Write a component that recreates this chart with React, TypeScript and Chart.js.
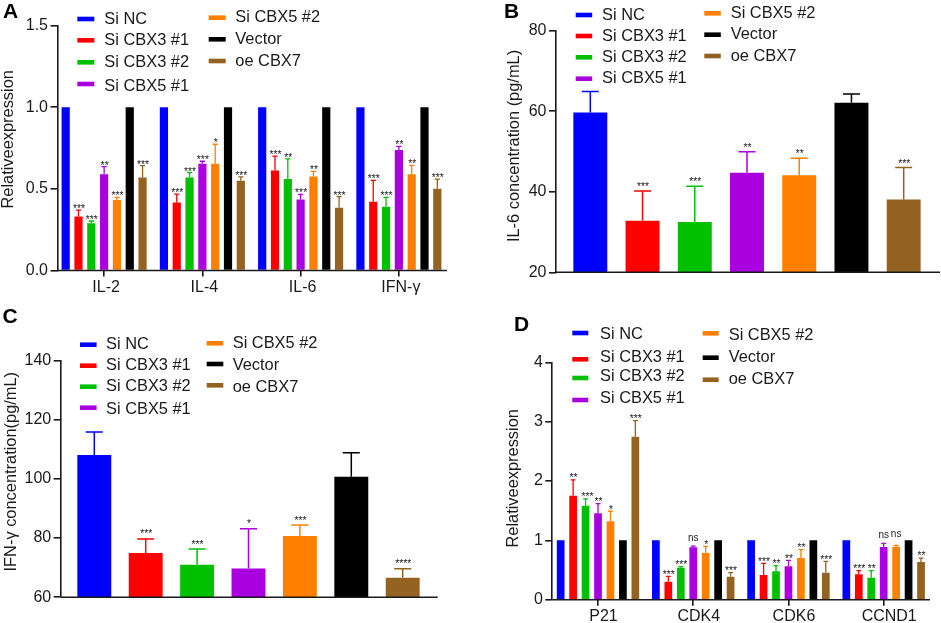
import { useEffect, useRef } from 'react';
import { Chart, registerables } from 'chart.js';

Chart.register(...registerables);

const FONT = '"Liberation Sans", Arial, sans-serif';
const INK = '#1a1a1a';

const seriesLabels = ['Si NC', 'Si CBX3 #1', 'Si CBX3 #2', 'Si CBX5 #1', 'Si CBX5 #2', 'Vector', 'oe CBX7'];
const seriesColors = ['#0000ff', '#ff0000', '#00c000', '#aa00e0', '#ff8000', '#000000', '#946322'];

// panel A, one row per series
const aCategories = ['IL-2', 'IL-4', 'IL-6', 'IFN-γ'];
const aValues = [
    [1, 1, 1, 1],
    [0.33, 0.417, 0.613, 0.421],
    [0.29, 0.57, 0.56, 0.39],
    [0.589, 0.654, 0.434, 0.738],
    [0.431, 0.654, 0.575, 0.589],
    [1, 1, 1, 1],
    [0.57, 0.55, 0.384, 0.5]
];
const aUpper = [
    [0, 0, 0, 0],
    [0.37, 0.468, 0.7, 0.552],
    [0.303, 0.6, 0.683, 0.448],
    [0.636, 0.669, 0.466, 0.76],
    [0.448, 0.773, 0.607, 0.644],
    [0, 0, 0, 0],
    [0.642, 0.573, 0.452, 0.56]
];
const aMarks = [
    ['', '', '', ''],
    ['***', '***', '***', '***'],
    ['***', '***', '**', '***'],
    ['**', '***', '***', '**'],
    ['***', '*', '**', '**'],
    ['', '', '', ''],
    ['***', '***', '***', '***']
];

// panel B
const bValues = [59.7, 32.8, 32.5, 44.75, 44.1, 62.1, 38.1];
const bUpper = [64.9, 40.2, 41.35, 49.96, 48.3, 64.3, 46];
const bMarks = ['', '***', '***', '**', '**', '', '***'];

// panel C
const cValues = [108.05, 74.96, 71, 69.7, 80.7, 100.7, 66.6];
const cUpper = [115.8, 79.7, 76.3, 83.1, 84.4, 108.8, 69.6];
const cMarks = ['', '***', '***', '*', '***', '', '****'];

// panel D, one row per series
const dCategories = ['P21', 'CDK4', 'CDK6', 'CCND1'];
const dValues = [
    [1, 1, 1, 1],
    [1.753, 0.303, 0.416, 0.427],
    [1.584, 0.54, 0.478, 0.371],
    [1.455, 0.882, 0.562, 0.888],
    [1.32, 0.787, 0.702, 0.893],
    [1, 1, 1, 1],
    [2.747, 0.388, 0.455, 0.635]
];
const dUpper = [
    [0, 0, 0, 0],
    [2.02, 0.393, 0.612, 0.489],
    [1.7, 0.556, 0.573, 0.489],
    [1.62, 0.904, 0.663, 0.949],
    [1.49, 0.899, 0.843, 0.916],
    [0, 0, 0, 0],
    [3.017, 0.455, 0.646, 0.702]
];
const dMarks = [
    ['', '', '', ''],
    ['**', '***', '***', '***'],
    ['***', '***', '**', '**'],
    ['**', 'ns', '**', 'ns'],
    ['*', '*', '**', 'ns'],
    ['', '', '', ''],
    ['***', '***', '***', '**']
];

type Panel = {
    letter: string;
    letterAt: [number, number];
    box: [number, number, number, number]; // page x, y, w, h of the canvas
    area: [number, number, number, number]; // page left, top, right, bottom of the plot
    axisX: number;
    axisEnd: number;
    min: number;
    max: number;
    step: number;
    decimals: number;
    title: string;
    titleAt: [number, number];
    categories: string[];
    labelOffset: number;
    values: number[][];
    upper: number[][];
    marks: string[][];
    catPct: number;
    barPct: number;
    cap: number;
    starDrop: number;
    nudge?: Record<string, [number, number]>; // a few marks sit off centre in the figure
    swatchX: [number, number];
    swatchW: number;
    textX: [number, number];
    swatchY: number[];
    textY: number[];
};

const panels: Panel[] = [
    {
        letter: 'A',
        letterAt: [3, 18.3],
        box: [0, 0, 470, 300],
        area: [55, 25.5, 448, 270.5],
        axisX: 57.5,
        axisEnd: 447,
        min: 0,
        max: 1.5,
        step: 0.5,
        decimals: 1,
        title: 'Relativeexpression',
        titleAt: [8.3, 139.3],
        categories: aCategories,
        labelOffset: 2,
        values: aValues,
        upper: aUpper,
        marks: aMarks,
        catPct: 0.913,
        barPct: 0.64,
        cap: 2.6,
        starDrop: 2,
        swatchX: [77.3, 208.7],
        swatchW: 17,
        textX: [104.3, 235.3],
        swatchY: [19, 40.3, 62.3, 84, 17.7, 39.3, 61],
        textY: [19, 40.7, 62, 86, 17.3, 39.3, 61]
    },
    {
        letter: 'B',
        letterAt: [504, 17.7],
        box: [470, 0, 471, 300],
        area: [564.2, 30.7, 929.8, 272.3],
        axisX: 556,
        axisEnd: 940,
        min: 20,
        max: 80,
        step: 20,
        decimals: 0,
        title: 'IL-6 concentration (pg/mL)',
        titleAt: [514.3, 146],
        categories: [''],
        labelOffset: 0,
        values: bValues.map((v) => [v]),
        upper: bUpper.map((v) => [v]),
        marks: bMarks.map((v) => [v]),
        catPct: 1,
        barPct: 0.65,
        cap: 8.5,
        starDrop: -1,
        swatchX: [575.7, 704.3],
        swatchW: 16.5,
        textX: [602, 730.7],
        swatchY: [15, 36, 57.3, 78.7, 13.3, 34.7, 56],
        textY: [15, 36, 57.3, 78.7, 13.3, 34.7, 56]
    },
    {
        letter: 'C',
        letterAt: [2.5, 322.7],
        box: [0, 300, 470, 323],
        area: [68.6, 360.3, 428.4, 597.3],
        axisX: 60.7,
        axisEnd: 437.7,
        min: 60,
        max: 140,
        step: 20,
        decimals: 0,
        title: 'IFN-γ concentration(pg/mL)',
        titleAt: [11.7, 471.7],
        categories: [''],
        labelOffset: 0,
        values: cValues.map((v) => [v]),
        upper: cUpper.map((v) => [v]),
        marks: cMarks.map((v) => [v]),
        catPct: 1,
        barPct: 0.66,
        cap: 8.5,
        starDrop: -1.5,
        swatchX: [80, 206.7],
        swatchW: 16.6,
        textX: [106, 232.7],
        swatchY: [344.7, 365.7, 386.7, 407.7, 343.3, 364, 385.3],
        textY: [344, 365, 386.3, 409, 343, 365.7, 387]
    },
    {
        letter: 'D',
        letterAt: [514, 331.3],
        box: [470, 300, 471, 323],
        area: [550.4, 362.3, 931.3, 599.7],
        axisX: 552.3,
        axisEnd: 930,
        min: 0,
        max: 4,
        step: 1,
        decimals: 0,
        title: 'Relativeexpression',
        titleAt: [513.7, 478.3],
        categories: dCategories,
        labelOffset: 5.5,
        values: dValues,
        upper: dUpper,
        marks: dMarks,
        catPct: 0.915,
        barPct: 0.62,
        cap: 2.4,
        starDrop: 1.3,
        nudge: { '2,0': [1.5, 0], '4,3': [0, -3] },
        swatchX: [572.3, 702.7],
        swatchW: 16,
        textX: [600, 728.7],
        swatchY: [333, 359.3, 378, 400, 333.3, 357.7, 379.7],
        textY: [334, 357, 376.7, 398.7, 335.7, 357.7, 379.7]
    }
];

// error bars, significance marks, hand placed legend and the axis baseline
function overlay(p: Panel) {
    return {
        id: 'overlay' + p.letter,
        afterLayout(chart: any) {
            const y = chart.scales.y;
            const shift = p.axisX - p.area[0];
            y.left += shift;
            y.right += shift;
        },
        afterDraw(chart: any) {
            const { ctx, scales } = chart;
            const y = scales.y;
            ctx.save();
            chart.data.datasets.forEach((_: any, i: number) => {
                const color = seriesColors[i];
                chart.getDatasetMeta(i).data.forEach((bar: any, j: number) => {
                    const hi = p.upper[i][j];
                    if (!hi) return;
                    const top = y.getPixelForValue(hi);
                    ctx.strokeStyle = color;
                    ctx.lineWidth = p.cap > 5 ? 1.5 : 1.3;
                    ctx.beginPath();
                    ctx.moveTo(bar.x, bar.y);
                    ctx.lineTo(bar.x, top);
                    ctx.moveTo(bar.x - p.cap, top);
                    ctx.lineTo(bar.x + p.cap, top);
                    ctx.stroke();
                    const mark = p.marks[i][j];
                    if (!mark) return;
                    const isNs = mark === 'ns';
                    const [dx, dy] = p.nudge?.[i + ',' + j] ?? [0, 0];
                    ctx.fillStyle = INK;
                    ctx.textAlign = 'center';
                    ctx.textBaseline = 'alphabetic';
                    ctx.font = (isNs ? 10 : 10.3) + 'px ' + FONT;
                    ctx.fillText(mark, bar.x + dx + (isNs ? 0 : 0.5), top + dy + (isNs ? -5.5 : p.starDrop));
                });
            });

            const [ox, oy] = p.box;
            const base = y.getPixelForValue(p.min);
            ctx.strokeStyle = INK;
            ctx.lineWidth = 1.6;
            ctx.beginPath();
            ctx.moveTo(p.axisX - ox, base);
            ctx.lineTo(p.axisEnd - ox, base);
            ctx.stroke();

            ctx.textAlign = 'left';
            ctx.textBaseline = 'middle';
            ctx.font = '16.4px ' + FONT;
            seriesLabels.forEach((label, i) => {
                const col = i < 4 ? 0 : 1;
                ctx.fillStyle = seriesColors[i];
                ctx.fillRect(p.swatchX[col] - ox, p.swatchY[i] - oy - 2.3, p.swatchW, 4.6);
                ctx.fillStyle = INK;
                ctx.fillText(label, p.textX[col] - ox, p.textY[i] - oy);
            });

            ctx.save();
            ctx.translate(p.titleAt[0] - ox, p.titleAt[1] - oy);
            ctx.rotate(-Math.PI / 2);
            ctx.textAlign = 'center';
            ctx.fillText(p.title, 0, 0);
            ctx.restore();

            ctx.fillStyle = '#000';
            ctx.textAlign = 'left';
            ctx.textBaseline = 'alphabetic';
            ctx.font = 'bold 21px ' + FONT;
            ctx.fillText(p.letter, p.letterAt[0] - ox, p.letterAt[1] - oy);
            ctx.restore();
        }
    };
}

function ChartPanel({ p }: { p: Panel }) {
    const canvasRef = useRef<HTMLCanvasElement | null>(null);

    useEffect(() => {
        if (!canvasRef.current) return;
        const [ox, oy, w, h] = p.box;
        const [left, top, right, bottom] = p.area;
        const labelled = p.categories[0] !== '';
        const xHeight = 26;
        const chart = new Chart(canvasRef.current, {
            type: 'bar',
            data: {
                labels: p.categories,
                datasets: seriesLabels.map((label, i) => ({
                    label,
                    data: p.values[i],
                    backgroundColor: seriesColors[i],
                    categoryPercentage: p.catPct,
                    barPercentage: p.barPct
                }))
            },
            options: {
                responsive: false,
                animation: false,
                layout: {
                    padding: { left: 0, top: top - oy, right: w - (right - ox), bottom: h - (bottom - oy) - xHeight }
                },
                plugins: { legend: { display: false }, tooltip: { enabled: false } },
                scales: {
                    x: {
                        afterFit: (s: any) => {
                            s.height = xHeight;
                        },
                        border: { display: false },
                        grid: {
                            offset: false,
                            drawOnChartArea: false,
                            drawTicks: labelled,
                            tickLength: 6,
                            color: INK,
                            lineWidth: 1.6
                        },
                        ticks: {
                            display: labelled,
                            autoSkip: false,
                            maxRotation: 0,
                            padding: 1.5,
                            labelOffset: p.labelOffset,
                            color: INK,
                            font: { family: FONT, size: 16 }
                        }
                    },
                    y: {
                        min: p.min,
                        max: p.max,
                        afterFit: (s: any) => {
                            s.width = left - ox;
                        },
                        border: { display: true, color: INK, width: 1.6 },
                        grid: { drawOnChartArea: false, tickLength: 7, color: INK, lineWidth: 1.6 },
                        ticks: {
                            stepSize: p.step,
                            padding: 2.5,
                            color: INK,
                            font: { family: FONT, size: 16 },
                            callback: (v: any) => Number(v).toFixed(p.decimals)
                        }
                    }
                }
            },
            plugins: [overlay(p)]
        } as any);
        return () => chart.destroy();
    }, [p]);

    return (
        <canvas
            ref={canvasRef}
            width={p.box[2]}
            height={p.box[3]}
            style={{ position: 'absolute', left: p.box[0], top: p.box[1] }}
        />
    );
}

export default function App() {
    return (
        <div style={{ position: 'absolute', left: 0, top: 0, width: 941, height: 623, background: '#fff', overflow: 'hidden' }}>
            {panels.map((p) => (
                <ChartPanel key={p.letter} p={p} />
            ))}
        </div>
    );
}
